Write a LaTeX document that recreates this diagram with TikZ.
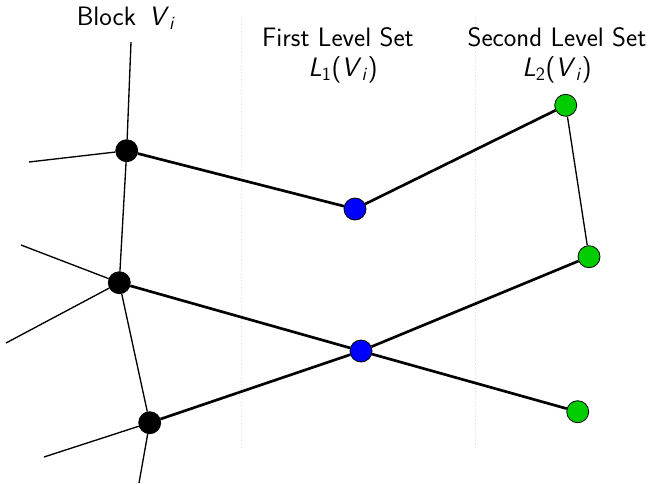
\documentclass[tikz,border=0pt]{standalone}
\usepackage{amsmath}
\newcommand{\iv}[1]{\textit{#1}}
\begin{document}
\begin{tikzpicture}[x=0.75pt,y=-0.75pt,
  every node/.style={font=\sffamily\fontsize{20}{23}\selectfont},
  vtx/.style={circle,draw=black,line width=0.6pt,inner sep=0pt,minimum size=16.5pt},
  blk/.style={vtx,fill=black},
  blu/.style={vtx,fill=blue},
  grn/.style={vtx,fill={rgb,255:red,0;green,204;blue,0}},
  thinedge/.style={line width=1pt},
  thickedge/.style={line width=2pt},
  sep/.style={dotted,gray!30,line width=0.6pt}]
\useasboundingbox (0,0) rectangle (653,483);
% separators
\coordinate (s1t) at (241,17); \coordinate (s1b) at (241,447);
\coordinate (s2t) at (475,17); \coordinate (s2b) at (475,447);
\draw[sep] (s1t) -- (s1b);
\draw[sep] (s2t) -- (s2b);
% labels
\node (lblock) at (126,18) {Block \,\iv{V}\textsubscript{\iv{i}}};
\node (lfirst) at (338,37) {First Level Set};
\node (lL1) at (343,70) {\iv{L}\textsubscript{1}(\iv{V}\textsubscript{\iv{i}})};
\node (lsecond) at (557,37) {Second Level Set};
\node (lL2) at (557,70) {\iv{L}\textsubscript{2}(\iv{V}\textsubscript{\iv{i}})};
% free ends
\coordinate (a1) at (131,42);
\coordinate (a2) at (29,162);
\coordinate (b1) at (21,245);
\coordinate (b2) at (6,343);
\coordinate (c1) at (44,457);
\coordinate (c2) at (139,483);
% vertices
\node[blk] (A) at (126.7,150.7) {};
\node[blk] (B) at (119.3,282.7) {};
\node[blk] (C) at (149.7,422.7) {};
\node[blu] (D) at (355,209) {};
\node[blu] (E) at (361,351) {};
\node[grn] (F) at (565.7,105.3) {};
\node[grn] (G) at (589,256.7) {};
\node[grn] (H) at (577.7,411.7) {};
% thin edges
\draw[thinedge] (A) -- (a1);
\draw[thinedge] (A) -- (a2);
\draw[thinedge] (A) -- (B);
\draw[thinedge] (B) -- (b1);
\draw[thinedge] (B) -- (b2);
\draw[thinedge] (B) -- (C);
\draw[thinedge] (C) -- (c1);
\draw[thinedge] (C) -- (c2);
\draw[thinedge] (F) -- (G);
% thick edges
\draw[thickedge] (A) -- (D);
\draw[thickedge] (D) -- (F);
\draw[thickedge] (B) -- (E);
\draw[thickedge] (E) -- (H);
\draw[thickedge] (C) -- (E);
\draw[thickedge] (E) -- (G);
\end{tikzpicture}
\end{document}
